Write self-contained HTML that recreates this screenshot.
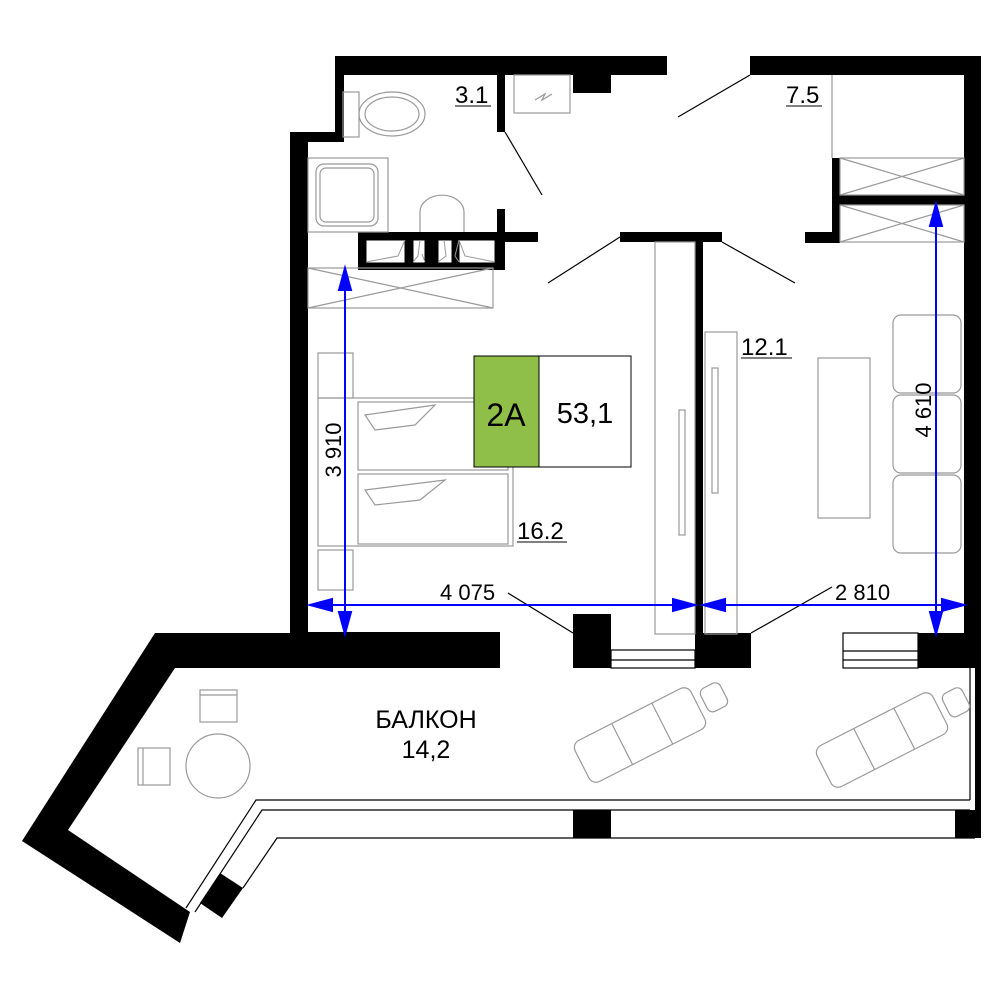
<!DOCTYPE html>
<html><head><meta charset="utf-8"><style>
html,body{margin:0;padding:0;background:#fff}
svg{display:block}
text{font-family:"Liberation Sans",sans-serif}
</style></head><body>
<svg width="1000" height="1000" viewBox="0 0 1000 1000" xmlns="http://www.w3.org/2000/svg">
<g fill="#000">
<rect x="335" y="56" width="332" height="19"/>
<rect x="335" y="56" width="9" height="85"/>
<rect x="290" y="132" width="54" height="10"/>
<rect x="290" y="132" width="18" height="508"/>
<rect x="573" y="75" width="38" height="18"/>
<polygon points="750,56 981,56 981,75 750,75"/>
<rect x="964" y="56" width="17" height="612"/>
<rect x="497" y="75" width="8" height="57"/>
<rect x="497" y="209" width="8" height="36"/>
<rect x="358" y="232" width="180" height="10"/>
<rect x="358" y="232" width="147" height="38"/>
<rect x="620" y="232" width="102" height="10"/>
<rect x="695" y="232" width="8" height="402"/>
<rect x="832" y="158" width="8" height="85"/>
<rect x="840" y="195" width="124" height="10"/>
<rect x="805" y="232" width="35" height="11"/>
<rect x="290" y="632" width="210" height="36"/>
<rect x="573" y="614" width="38" height="54"/>
<rect x="695" y="633" width="56" height="35"/>
<rect x="918" y="633" width="63" height="35"/>
<rect x="975" y="668" width="6" height="170"/>
<rect x="573" y="810" width="38" height="28"/>
<rect x="955" y="810" width="20" height="28"/>
<polygon points="155,633 500,633 500,668 175,668 68,830 190,912 180,943 22,841"/>
<polygon points="220,873 243,888 222,918 200,903"/>
</g>
<g fill="#fff" stroke="#000" stroke-width="1">
<rect x="366" y="240" width="39" height="23"/>
<rect x="413" y="240" width="12" height="23"/>
<rect x="438" y="240" width="14" height="23"/>
<rect x="459" y="240" width="36" height="23"/>
</g>
<g fill="none" stroke="#999" stroke-width="1">
<path d="M366 262 l32 -6 l7 -16 M413 262 l5 -6 l2 -16 M425 262 l-3 -8 M438 262 l8 -6 l-2 -16 M459 262 l-4 -6 l4 -16 M495 262 l-30 -6 l-6 -16"/>
</g>
<g fill="none" stroke="#000" stroke-width="1.2">
<polyline points="186,908 256,800 970,800"/>
<polyline points="195,912 262,810 970,810"/>
<polyline points="243,888 277,838 975,838"/>
<line x1="970" y1="668" x2="970" y2="800"/>
<rect x="611" y="650" width="84" height="18"/>
<line x1="611" y1="660" x2="695" y2="660"/>
<rect x="843" y="633" width="75" height="35"/>
<line x1="843" y1="651" x2="918" y2="651"/>
<line x1="843" y1="660" x2="918" y2="660"/>
<line x1="505" y1="132" x2="542" y2="195"/>
<line x1="750" y1="75" x2="678" y2="117"/>
<line x1="620" y1="237" x2="548" y2="283"/>
<line x1="722" y1="242" x2="795" y2="283"/>
<line x1="573" y1="633" x2="508" y2="593"/>
<line x1="751" y1="633" x2="832" y2="587"/>
</g>
<g fill="none" stroke="#999" stroke-width="1.2">
<line x1="832" y1="75" x2="832" y2="158"/>
<rect x="840" y="158" width="124" height="37"/><line x1="840" y1="158" x2="964" y2="195"/><line x1="840" y1="195" x2="964" y2="158"/>
<rect x="840" y="205" width="124" height="37"/><line x1="840" y1="205" x2="964" y2="242"/><line x1="840" y1="242" x2="964" y2="205"/>
<rect x="308" y="268" width="185" height="40"/><line x1="308" y1="268" x2="493" y2="308"/><line x1="308" y1="308" x2="493" y2="268"/>
<rect x="514" y="75" width="56" height="38"/><path d="M535 100 l10 -6 l-3 6 l10 -6"/>
<rect x="308" y="158" width="80" height="74"/>
<rect x="316" y="164" width="62" height="62" rx="8"/>
<rect x="320" y="168" width="54" height="54" rx="6"/>
<rect x="343" y="92" width="16" height="45"/>
<ellipse cx="392" cy="114" rx="33" ry="22"/>
<ellipse cx="392" cy="114" rx="27" ry="17"/>
<path d="M420 232 v-20 a17 13 0 0 1 44 0 v20"/>
<rect x="655" y="242" width="40" height="392"/>
<rect x="705" y="332" width="32" height="302"/>
<rect x="712" y="368" width="6" height="125"/>
<rect x="679" y="410" width="6" height="125"/>
<rect x="818" y="358" width="52" height="160"/>
<rect x="893" y="315" width="68" height="78" rx="8"/>
<rect x="893" y="395" width="68" height="78" rx="8"/>
<rect x="893" y="475" width="68" height="78" rx="8"/>
<rect x="318" y="353" width="35" height="45"/>
<rect x="318" y="550" width="35" height="40"/>
<rect x="318" y="398" width="195" height="148"/>
<rect x="358" y="402" width="150" height="68"/>
<rect x="358" y="474" width="150" height="70"/>
<path d="M365 415 l70 -10 l-20 20 l-40 5 z"/><path d="M365 490 l80 -10 l-25 20 l-45 5 z"/>
<rect x="200" y="690" width="37" height="32"/><line x1="200" y1="695" x2="237" y2="695"/>
<rect x="138" y="748" width="32" height="37"/><line x1="143" y1="748" x2="143" y2="785"/>
<circle cx="218" cy="766" r="32"/>
<g transform="translate(640,735) rotate(-27)"><rect x="-65" y="-23" width="130" height="46" rx="8"/><line x1="-20" y1="-23" x2="-20" y2="23"/><line x1="25" y1="-23" x2="25" y2="23"/><rect x="72" y="-13" width="22" height="26" rx="6"/></g>
<g transform="translate(882,740) rotate(-27)"><rect x="-65" y="-23" width="130" height="46" rx="8"/><line x1="-20" y1="-23" x2="-20" y2="23"/><line x1="25" y1="-23" x2="25" y2="23"/><rect x="72" y="-13" width="22" height="26" rx="6"/></g>
</g>
<rect x="474" y="356" width="65" height="111" fill="#8fbf48" stroke="#000" stroke-width="1"/>
<rect x="539" y="356" width="92" height="111" fill="#fff" stroke="#000" stroke-width="1"/>
<text x="506" y="426" font-size="32" text-anchor="middle">2A</text>
<text x="585" y="423" font-size="29" text-anchor="middle">53,1</text>
<g stroke="#00f" stroke-width="2" fill="#00f">
<line x1="345" y1="280" x2="345" y2="625"/>
<polygon points="345,268 339,290 351,290"/><polygon points="345,634 339,612 351,612"/>
<line x1="320" y1="605" x2="690" y2="605"/>
<polygon points="310,605 332,599 332,611"/><polygon points="695,605 673,599 673,611"/>
<line x1="710" y1="605" x2="955" y2="605"/>
<polygon points="703,605 725,599 725,611"/><polygon points="964,605 942,599 942,611"/>
<line x1="936" y1="215" x2="936" y2="625"/>
<polygon points="936,204 930,226 942,226"/><polygon points="936,634 930,612 942,612"/>
</g>
<g font-size="24" fill="#000">
<text x="455" y="103">3.1</text><line x1="455" y1="106" x2="491" y2="106" stroke="#000"/>
<text x="786" y="103">7.5</text><line x1="786" y1="106" x2="822" y2="106" stroke="#000"/>
<text x="741" y="355">12.1</text><line x1="741" y1="358" x2="792" y2="358" stroke="#000"/>
<text x="517" y="539">16.2</text><line x1="517" y1="542" x2="567" y2="542" stroke="#000"/>
<text x="440" y="600" font-size="22">4 075</text>
<text x="835" y="600" font-size="22">2 810</text>
<text x="341" y="450" font-size="22" transform="rotate(-90 341 450)" text-anchor="middle">3 910</text>
<text x="931" y="410" font-size="22" transform="rotate(-90 931 410)" text-anchor="middle">4 610</text>
<text x="426" y="728" font-size="25" text-anchor="middle">БАЛКОН</text>
<text x="426" y="758" font-size="25" text-anchor="middle">14,2</text>
</g>
</svg>
</body></html>
